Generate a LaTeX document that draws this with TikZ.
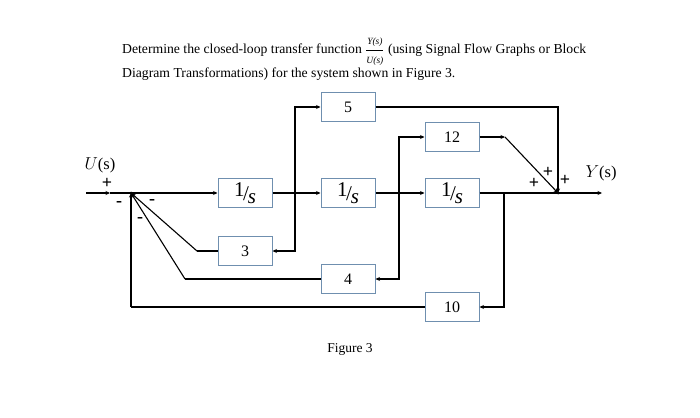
\documentclass[tikz,border=0pt]{standalone}
\usepackage{amsmath}
\usepackage{fontspec}
\setmainfont{Liberation Serif}
\usetikzlibrary{arrows.meta}
\definecolor{boxc}{HTML}{6F8FAF}
\newcommand\invs{{\fontsize{21}{21}\selectfont\raisebox{4pt}{1}\kern-1.5pt/\kern-1pt\raisebox{-3pt}{\itshape s}}}
\newcommand\smallit[1]{\mbox{\fontsize{9.5}{9.5}\selectfont\itshape #1}}
\begin{document}
\begin{tikzpicture}[x=1pt,y=-1pt,
  blk/.style={draw=boxc, line width=1pt, fill=white, minimum width=54pt, minimum height=29pt, inner sep=0pt, font=\fontsize{16}{16}\selectfont},
  ln/.style={line width=1.1pt},
  ar/.style={ln, -{Stealth[length=4.5pt,width=4pt]}},
  sg/.style={font=\fontsize{18}{18}\selectfont\bfseries, inner sep=0pt},
  lbl/.style={font=\fontsize{16.5}{16.5}\selectfont, inner sep=0pt},
  dot/.style={circle, fill=black, inner sep=0pt, minimum size=3pt}
  ]
\useasboundingbox (0,0) rectangle (700,417);
% title
\node[anchor=base west, inner sep=0pt, font=\fontsize{13.7}{13.7}\selectfont] (t1) at (122,54) {Determine the closed-loop transfer function $\genfrac{}{}{0.7pt}{0}{\smallit{Y(s)}}{\smallit{U(s)}}$ (using Signal Flow Graphs or Block};
\node[anchor=base west, inner sep=0pt, font=\fontsize{13.7}{13.7}\selectfont] (t2) at (122,78) {Diagram Transformations) for the system shown in Figure 3.};
% blocks
\node[blk] (i1) at (245,193) {\invs};
\node[blk] (i2) at (348,193) {\invs};
\node[blk] (i3) at (452,193) {\invs};
\node[blk] (b5) at (348,107) {5};
\node[blk] (b12) at (452,137) {12};
\node[blk] (b3) at (245,251) {3};
\node[blk] (b4) at (348,279) {4};
\node[blk] (b10) at (452,307) {10};
% coordinates
\coordinate (in) at (86,193);
\coordinate (inm) at (110,193);
\coordinate (s1) at (131,193);
\coordinate (p1) at (295,193);
\coordinate (p2) at (399,193);
\coordinate (p3) at (504,193);
\coordinate (s2) at (558,193);
\coordinate (out) at (602,193);
\coordinate (k12) at (505,137);
\coordinate (f3) at (197,251);
\coordinate (f4) at (185,279);
\coordinate (f10) at (131,307);
% forward path
\draw[ar] (in) -- (inm);
\draw[ln] (inm) -- (s1);
\draw[ar] (s1) -- (i1);
\draw[ln] (i1) -- (p1);
\draw[ar] (p1) -- (i2);
\draw[ln] (i2) -- (p2);
\draw[ar] (p2) -- (i3);
\draw[ln] (i3) -- (s2);
\draw[ar] (s2) -- (out);
% branches
\draw[ar] (p1) |- (b5);
\draw[ar] (p1) |- (b3);
\draw[ar] (p2) |- (b12);
\draw[ar] (p2) |- (b4);
\draw[ar] (p3) |- (b10);
% to output sum
\draw[ar] (b5) -| (s2);
\draw[ar] (b12) -- (k12);
\draw[ar] (k12) -- (s2);
% feedback
\draw[ln] (b3) -- (f3);
\draw[ar] (f3) -- (s1);
\draw[ln] (b4) -- (f4);
\draw[ar] (f4) -- (s1);
\draw[ln] (b10) -- (f10);
\draw[ar] (f10) -- (s1);
\node[dot] (d1) at (s1) {};
\node[dot] (d2) at (s2) {};
% labels
\node[lbl] (u) at (100,165) {$U$(s)};
\node[lbl] (y) at (601,173) {$Y$(s)};
\node[sg] (pl1) at (107,183.5) {+};
\node[sg] (pl2) at (534,183) {+};
\node[sg] (pl3) at (548,172) {+};
\node[sg] (pl4) at (565,180) {+};
\node[sg] (m1) at (119,204) {-};
\node[sg] (m2) at (152,202) {-};
\node[sg] (m3) at (140,220) {-};
\node[lbl, font=\fontsize{13.5}{13.5}\selectfont] (fig) at (350,349) {Figure 3};
\end{tikzpicture}
\end{document}
